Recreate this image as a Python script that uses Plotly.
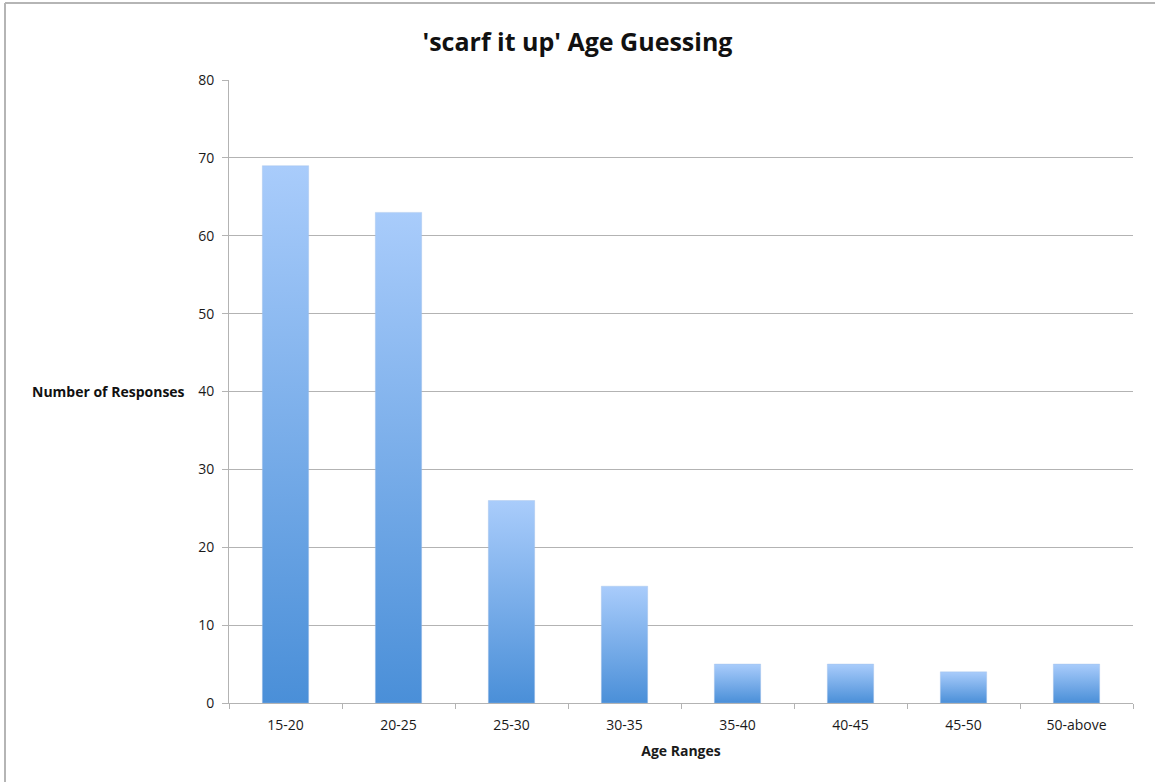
import plotly.graph_objects as go

# Survey results: guessed age ranges
age_ranges = ["15-20", "20-25", "25-30", "30-35", "35-40", "40-45", "45-50", "50-above"]
responses = [69, 63, 26, 15, 5, 5, 4, 5]
y_ticks = [0, 10, 20, 30, 40, 50, 60, 70, 80]

BAR_WIDTH = 0.41
TOP_COLOR = "#a9ccfb"
BOTTOM_COLOR = "#4a8fd8"
GRID = "#b3b3b3"
FONT = "'Open Sans', sans-serif"

fig = go.Figure()

# Each bar is a filled rectangle with a vertical gradient (dark at base, light at top)
for i, (label, value) in enumerate(zip(age_ranges, responses)):
    left, right = i - BAR_WIDTH / 2, i + BAR_WIDTH / 2
    fig.add_trace(go.Scatter(
        x=[left, left, right, right, left],
        y=[0, value, value, 0, 0],
        mode="lines",
        line=dict(width=0.6, color="rgba(160,190,230,0.6)"),
        fill="toself",
        fillgradient=dict(
            type="vertical",
            colorscale=[[0, BOTTOM_COLOR], [1, TOP_COLOR]],
        ),
        name=label,
        hoverinfo="skip",
        showlegend=False,
    ))

W, H = 1155, 782
ml, mr, mt, mb = 229, 22, 80, 79
pw, ph = W - ml - mr, H - mt - mb

fig.update_layout(
    width=W,
    height=H,
    margin=dict(l=ml, r=mr, t=mt, b=mb),
    paper_bgcolor="white",
    plot_bgcolor="white",
    font=dict(family=FONT, color="#1a1a1a", size=14),
    title=dict(
        text="<b>'scarf it up' Age Guessing</b>",
        x=0.5, xanchor="center",
        y=1 - 42 / H, yanchor="middle",
        font=dict(size=25, color="#111111"),
    ),
    xaxis=dict(
        range=[-0.5, len(age_ranges) - 0.5],
        tickmode="array",
        tickvals=list(range(len(age_ranges))),
        ticktext=age_ranges,
        ticks="",
        ticklabelstandoff=9,
        showgrid=False,
        zeroline=False,
        showline=True,
        linecolor=GRID,
        linewidth=1,
        minor=dict(tick0=-0.5, dtick=1, ticks="outside", ticklen=5,
                   tickcolor=GRID, showgrid=False),
        tickfont=dict(size=14),
        title=dict(text="<b>Age Ranges</b>", font=dict(size=14), standoff=13),
        fixedrange=True,
    ),
    yaxis=dict(
        range=[0, 80],
        tickmode="array",
        tickvals=y_ticks,
        ticks="outside",
        ticklen=6,
        tickcolor=GRID,
        ticklabelstandoff=5,
        showgrid=True,
        gridcolor=GRID,
        gridwidth=1,
        zeroline=False,
        showline=True,
        linecolor=GRID,
        linewidth=1,
        tickfont=dict(size=14),
        fixedrange=True,
    ),
    annotations=[dict(
        text="<b>Number of Responses</b>",
        xref="paper", yref="y",
        x=(187 - ml) / pw, y=40,
        xanchor="right", yanchor="middle",
        showarrow=False,
        font=dict(size=14, color="#111111"),
    )],
    shapes=[
        # outer frame along the top and left edges
        dict(type="line", xref="paper", yref="paper",
             x0=(5 - ml) / pw, x1=(W - ml) / pw,
             y0=(H - mb - 3) / ph, y1=(H - mb - 3) / ph,
             line=dict(color="#b5b5b5", width=2)),
        dict(type="line", xref="paper", yref="paper",
             x0=(5 - ml) / pw, x1=(5 - ml) / pw,
             y0=(H - mb - 3) / ph, y1=-mb / ph,
             line=dict(color="#b5b5b5", width=2)),
    ],
)

fig.write_html("out.html")
